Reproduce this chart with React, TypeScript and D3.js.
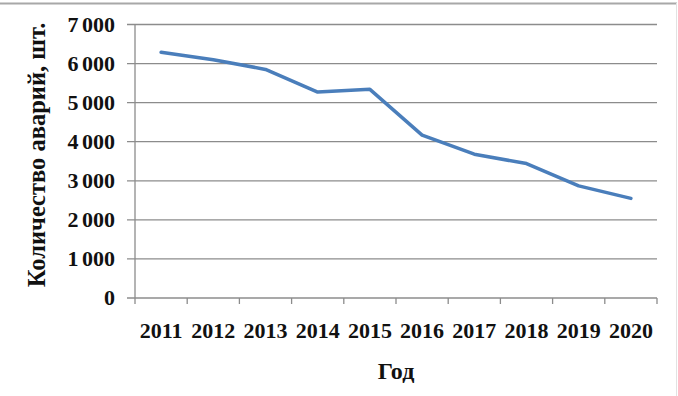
import React from "react";
import * as d3 from "d3";

const years: string[] = ["2011", "2012", "2013", "2014", "2015", "2016", "2017", "2018", "2019", "2020"];
const accidents: number[] = [6290, 6100, 5850, 5270, 5340, 4170, 3680, 3440, 2870, 2550];
const yTicks: number[] = [0, 1000, 2000, 3000, 4000, 5000, 6000, 7000];
const yLabel = "Количество аварий, шт.";
const xLabel = "Год";

const W = 678;
const H = 396;
const M = { left: 135, right: 21, top: 24.5, bottom: 98 };

const FONT = "'Liberation Serif', 'Times New Roman', serif";
const fmt = (v: number) => d3.format(",")(v).replace(/,/g, " ");

export default function App() {
  const x = d3
    .scaleBand<string>()
    .domain(years)
    .range([M.left, W - M.right])
    .paddingInner(0)
    .paddingOuter(0);
  const y = d3
    .scaleLinear()
    .domain([0, 7000])
    .range([H - M.bottom, M.top]);

  const line = d3
    .line<number>()
    .x((_, i) => (x(years[i]) as number) + x.bandwidth() / 2)
    .y((d) => y(d));

  const x0 = M.left;
  const x1 = W - M.right;
  const yBase = y(0);

  return (
    <svg
      width={W}
      height={H}
      style={{ position: "absolute", left: 0, top: 0, background: "#fff" }}
      fontFamily={FONT}
    >
      {/* frame edges */}
      <line x1={0} x2={677} y1={3.5} y2={3.5} stroke="#a8a8a8" strokeWidth={2} />
      <line x1={676.5} x2={676.5} y1={3} y2={H} stroke="#e2e2e2" strokeWidth={1} />

      {/* horizontal gridlines with left tick marks */}
      {yTicks.map((t) => (
        <g key={t}>
          <line
            x1={x0 - 8}
            x2={x1}
            y1={y(t)}
            y2={y(t)}
            stroke="#8c8c8c"
            strokeWidth={1.3}
          />
          <text
            x={115}
            y={y(t)}
            dy="0.34em"
            textAnchor="end"
            fontSize={22}
            fontWeight="bold"
            wordSpacing={-2}
            fill="#111"
          >
            {fmt(t)}
          </text>
        </g>
      ))}

      {/* vertical axis */}
      <line x1={x0} x2={x0} y1={y(7000)} y2={yBase} stroke="#8c8c8c" strokeWidth={1.3} />

      {/* category boundary ticks */}
      {[...years.map((yr) => x(yr) as number), x1].map((px, i) => (
        <line
          key={i}
          x1={px}
          x2={px}
          y1={yBase}
          y2={yBase + 6}
          stroke="#8c8c8c"
          strokeWidth={1.3}
        />
      ))}

      {/* year labels */}
      {years.map((yr) => (
        <text
          key={yr}
          x={(x(yr) as number) + x.bandwidth() / 2}
          y={338}
          textAnchor="middle"
          fontSize={22}
          fontWeight="bold"
          fill="#111"
        >
          {yr}
        </text>
      ))}

      {/* data line */}
      <path
        d={line(accidents) ?? ""}
        fill="none"
        stroke="#4a7ebb"
        strokeWidth={3.5}
        strokeLinejoin="round"
        strokeLinecap="round"
      />

      {/* axis titles */}
      <text
        x={(x0 + x1) / 2}
        y={379}
        textAnchor="middle"
        fontSize={24}
        fontWeight="bold"
        fill="#111"
      >
        {xLabel}
      </text>
      <text
        transform={`translate(45, 155) rotate(-90)`}
        textAnchor="middle"
        fontSize={24.5}
        fontWeight="bold"
        fill="#111"
      >
        {yLabel}
      </text>
    </svg>
  );
}
